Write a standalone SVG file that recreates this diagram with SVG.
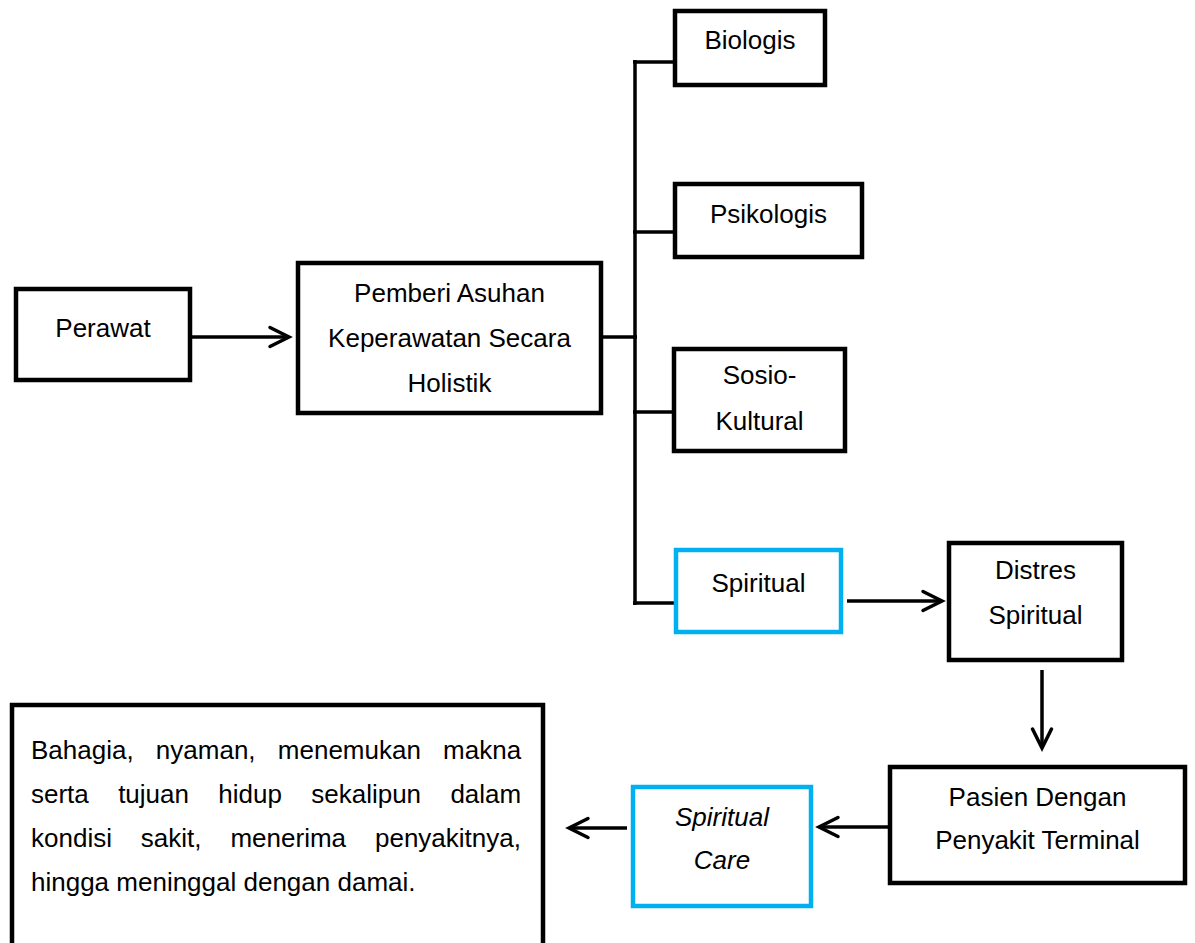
<svg xmlns="http://www.w3.org/2000/svg" width="1195" height="943" viewBox="0 0 1195 943">
<style>
  .box { fill: #fff; stroke: #000; stroke-width: 4.5; }
  .blue { fill: #fff; stroke: #00B0F0; stroke-width: 4.5; }
  .lbl { font-family: "Liberation Sans", Arial, sans-serif; font-size: 26px; fill: #000; text-anchor: middle; }
  .para { font-family: "Liberation Sans", Arial, sans-serif; font-size: 26px; fill: #000; }
  .it { font-style: italic; }
  .ln { fill: none; stroke: #000; stroke-width: 3.5; }
  .arw { fill: none; stroke: #000; stroke-width: 3.5; marker-end: url(#arr); }
</style>
<defs>
  <marker id="arr" markerUnits="userSpaceOnUse" viewBox="0 0 24 24" markerWidth="24" markerHeight="24" refX="20" refY="10" orient="auto" overflow="visible">
    <path d="M1,0.5 L20,10 L1,19.5" fill="none" stroke="#000" stroke-width="3.5" stroke-linecap="round" stroke-linejoin="miter"/>
  </marker>
</defs>
<rect width="1195" height="943" fill="#fff"/>

<g id="connectors">
  <line class="arw" x1="192" y1="337" x2="289" y2="337"/>
  <line class="ln" x1="601" y1="337" x2="637" y2="337"/>
  <line class="ln" x1="635" y1="60" x2="635" y2="605"/>
  <line class="ln" x1="633" y1="62" x2="675" y2="62"/>
  <line class="ln" x1="633" y1="232" x2="675" y2="232"/>
  <line class="ln" x1="633" y1="412" x2="674" y2="412"/>
  <line class="ln" x1="633" y1="603" x2="676" y2="603"/>
  <line class="arw" x1="847" y1="601" x2="942" y2="601"/>
  <line class="arw" x1="1042" y1="670" x2="1042" y2="748"/>
  <line class="arw" x1="888" y1="827" x2="819" y2="827"/>
  <line class="arw" x1="627" y1="828" x2="569" y2="828"/>
</g>

<g id="perawat">
  <rect class="box" x="16" y="289" width="174" height="91"/>
  <text class="lbl" x="103" y="337">Perawat</text>
</g>

<g id="pemberi">
  <rect class="box" x="298" y="263" width="303" height="150"/>
  <text class="lbl" x="449.5" y="302">Pemberi Asuhan</text>
  <text class="lbl" x="449.5" y="347">Keperawatan Secara</text>
  <text class="lbl" x="449.5" y="392">Holistik</text>
</g>

<g id="biologis">
  <rect class="box" x="675" y="11" width="150" height="74"/>
  <text class="lbl" x="750" y="49">Biologis</text>
</g>

<g id="psikologis">
  <rect class="box" x="675" y="184" width="187" height="73"/>
  <text class="lbl" x="768.5" y="223">Psikologis</text>
</g>

<g id="sosio">
  <rect class="box" x="674" y="349" width="171" height="102"/>
  <text class="lbl" x="759.5" y="384">Sosio-</text>
  <text class="lbl" x="759.5" y="430">Kultural</text>
</g>

<g id="spiritual">
  <rect class="blue" x="676" y="550" width="165" height="82"/>
  <text class="lbl" x="758.5" y="592">Spiritual</text>
</g>

<g id="distres">
  <rect class="box" x="949" y="543" width="173" height="117"/>
  <text class="lbl" x="1035.5" y="579">Distres</text>
  <text class="lbl" x="1035.5" y="624">Spiritual</text>
</g>

<g id="pasien">
  <rect class="box" x="890" y="767" width="295" height="116"/>
  <text class="lbl" x="1037.5" y="806">Pasien Dengan</text>
  <text class="lbl" x="1037.5" y="849">Penyakit Terminal</text>
</g>

<g id="spiritual-care">
  <rect class="blue" x="633" y="787" width="178" height="119"/>
  <text class="lbl it" x="722" y="826">Spiritual</text>
  <text class="lbl it" x="722" y="869">Care</text>
</g>

<g id="hasil">
  <rect class="box" x="12" y="705" width="531" height="260"/>
  <text class="para" x="31" y="759" word-spacing="15">Bahagia, nyaman, menemukan makna</text>
  <text class="para" x="31" y="803" word-spacing="22.1">serta tujuan hidup sekalipun dalam</text>
  <text class="para" x="31" y="847" word-spacing="21.7">kondisi sakit, menerima penyakitnya,</text>
  <text class="para" x="31" y="891">hingga meninggal dengan damai.</text>
</g>
</svg>
